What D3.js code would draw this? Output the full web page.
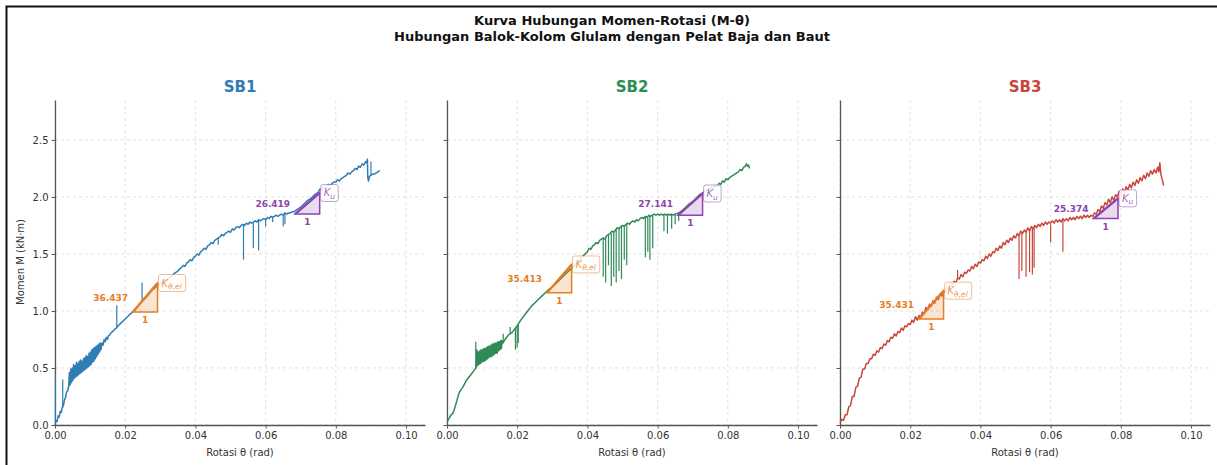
<!DOCTYPE html>
<html>
<head>
<meta charset="utf-8">
<script src="https://cdn.jsdelivr.net/npm/d3@7"></script>
<style>
    body { margin: 0; background: #fff; }
    svg { display: block; font-family: "DejaVu Sans", sans-serif; }
</style>
</head>
<body>
<div id="viz"></div>
<script>
//Data (theta rad, M kN·m)
const specimens = ['SB1', 'SB2', 'SB3'];
const xTicks = [0, 0.02, 0.04, 0.06, 0.08, 0.10];
const yTicks = [0, 0.5, 1.0, 1.5, 2.0, 2.5];

const sb1Curve = [
    [0.0000,0.00],[0.0003,0.04],[0.0006,0.03],[0.0009,0.08],[0.0012,0.07],[0.0015,0.12],[0.0018,0.11],[0.0021,0.16],[0.0024,0.17],[0.0027,0.22],[0.0030,0.24],[0.0033,0.29],[0.0036,0.30],
    [0.0039,0.34],[0.0041,0.46],[0.0043,0.35],[0.0045,0.49],[0.0047,0.37],[0.0049,0.50],[0.0051,0.39],[0.0053,0.53],[0.0055,0.41],[0.0057,0.52],[0.0059,0.42],[0.0061,0.55],[0.0063,0.43],[0.0065,0.54],[0.0067,0.44],[0.0069,0.56],[0.0071,0.45],[0.0073,0.57],[0.0075,0.46],[0.0077,0.56],[0.0079,0.47],[0.0081,0.58],[0.0083,0.48],[0.0085,0.59],[0.0087,0.49],[0.0089,0.61],[0.0091,0.50],[0.0093,0.60],[0.0095,0.51],[0.0097,0.63],[0.0099,0.52],[0.0101,0.64],[0.0103,0.53],[0.0105,0.66],[0.0107,0.55],[0.0109,0.67],[0.0111,0.56],[0.0113,0.68],[0.0115,0.58],[0.0117,0.69],[0.0119,0.60],[0.0121,0.70],[0.0123,0.62],[0.0125,0.71],[0.0127,0.64],[0.0129,0.72],[0.0131,0.66],[0.0134,0.72],[0.0137,0.70],[0.0140,0.75],[0.0143,0.73],[0.0146,0.77],[0.0149,0.75],[0.0152,0.78],[0.0156,0.79],[0.0160,0.81],[0.0165,0.82],[0.0170,0.84],[0.0175,0.85],[0.0180,0.87],
    [0.0190,0.90],[0.0200,0.93],[0.0210,0.96],[0.0220,0.99],[0.0230,1.02],[0.0240,1.06],[0.0250,1.09],[0.0260,1.12],[0.0270,1.16],[0.0280,1.19],[0.0290,1.22],[0.0300,1.24],[0.0310,1.26],[0.0320,1.28],[0.0330,1.30],[0.0340,1.33],[0.0350,1.35],[0.0355,1.37],[0.0360,1.38],[0.0365,1.40],[0.0370,1.39],[0.0375,1.42],[0.0380,1.43],[0.0385,1.45],[0.0390,1.44],[0.0395,1.47],[0.0400,1.48],[0.0405,1.50],[0.0410,1.49],[0.0415,1.52],[0.0420,1.53],[0.0425,1.55],[0.0430,1.54],[0.0435,1.57],[0.0440,1.58],[0.0445,1.60],[0.0450,1.59],[0.0455,1.62],[0.0460,1.63],[0.0465,1.64],[0.0470,1.65],[0.0475,1.67],[0.0480,1.66],[0.0485,1.68],[0.0490,1.69],[0.0495,1.70],[0.0500,1.69],[0.0505,1.72],[0.0510,1.71],[0.0515,1.73],[0.0520,1.74],[0.0525,1.73],[0.0530,1.75],[0.0535,1.76],[0.0540,1.75],[0.0545,1.77],[0.0550,1.76],[0.0555,1.78],[0.0560,1.77],[0.0565,1.78],[0.0570,1.79],[0.0575,1.78],[0.0580,1.80],[0.0585,1.79],[0.0590,1.80],[0.0595,1.81],[0.0600,1.80],[0.0605,1.82],[0.0610,1.81],[0.0615,1.83],[0.0620,1.82],[0.0625,1.83],[0.0630,1.84],[0.0635,1.83],[0.0640,1.84],[0.0645,1.85],[0.0650,1.84],[0.0655,1.86],[0.0660,1.85],[0.0665,1.86],[0.0670,1.86],[0.0675,1.87],[0.0680,1.87],
    [0.0690,1.89],[0.0700,1.91],[0.0710,1.94],[0.0720,1.97],[0.0730,1.99],[0.0740,2.02],[0.0750,2.04],[0.0755,2.07],[0.0760,2.06],[0.0765,2.09],[0.0770,2.08],[0.0775,2.10],[0.0780,2.11],[0.0785,2.10],[0.0790,2.12],[0.0795,2.13],[0.0800,2.13],[0.0805,2.15],[0.0810,2.14],[0.0815,2.16],[0.0820,2.17],[0.0825,2.18],[0.0830,2.19],[0.0835,2.21],[0.0840,2.20],[0.0845,2.22],[0.0850,2.23],[0.0855,2.25],[0.0860,2.24],[0.0865,2.27],[0.0870,2.26],[0.0875,2.29],[0.0880,2.28],[0.0885,2.31],[0.0888,2.30],[0.0890,2.33],[0.0891,2.17],[0.0893,2.14],[0.0896,2.18],[0.0900,2.19],[0.0905,2.20],[0.0910,2.20],[0.0915,2.21],[0.0920,2.22],[0.0925,2.23]
];
const sb2Curve = [
    [0.0000,0.02],[0.0004,0.05],[0.0008,0.07],[0.0012,0.09],[0.0016,0.10],[0.0020,0.13],[0.0024,0.17],[0.0028,0.21],[0.0032,0.26],[0.0036,0.29],[0.0040,0.31],[0.0045,0.33],[0.0050,0.36],[0.0055,0.39],[0.0060,0.41],[0.0065,0.43],[0.0070,0.45],[0.0075,0.47],[0.0080,0.49],
    [0.0083,0.51],[0.0085,0.66],[0.0087,0.52],[0.0089,0.64],[0.0091,0.53],[0.0093,0.65],[0.0095,0.54],[0.0097,0.66],[0.0099,0.55],[0.0101,0.66],[0.0103,0.56],[0.0105,0.67],[0.0107,0.56],[0.0109,0.67],[0.0111,0.57],[0.0113,0.68],[0.0115,0.58],[0.0117,0.69],[0.0119,0.59],[0.0121,0.69],[0.0123,0.60],[0.0125,0.70],[0.0127,0.60],[0.0129,0.71],[0.0131,0.61],[0.0133,0.71],[0.0135,0.62],[0.0137,0.72],[0.0139,0.63],[0.0141,0.72],[0.0143,0.63],[0.0145,0.73],[0.0147,0.65],[0.0149,0.73],[0.0151,0.66],[0.0153,0.74],[0.0155,0.67],[0.0157,0.74],
    [0.0160,0.72],[0.0165,0.75],[0.0170,0.77],[0.0175,0.79],[0.0180,0.80],[0.0185,0.81],[0.0190,0.83],[0.0195,0.85],[0.0200,0.87],[0.0210,0.92],[0.0220,0.96],[0.0230,1.00],[0.0240,1.04],[0.0250,1.07],[0.0260,1.10],[0.0270,1.13],[0.0280,1.16],[0.0290,1.19],[0.0300,1.21],[0.0310,1.24],[0.0320,1.27],[0.0330,1.30],[0.0340,1.33],[0.0350,1.36],[0.0360,1.39],[0.0370,1.42],[0.0380,1.46],[0.0390,1.49],[0.0400,1.52],
    [0.0405,1.55],[0.0410,1.54],[0.0415,1.57],[0.0420,1.58],[0.0425,1.60],[0.0430,1.59],[0.0435,1.62],[0.0440,1.63],[0.0445,1.64],[0.0450,1.63],[0.0455,1.66],[0.0460,1.67],[0.0465,1.68],[0.0470,1.70],[0.0475,1.69],[0.0480,1.71],[0.0485,1.73],[0.0490,1.72],[0.0495,1.74],[0.0500,1.75],[0.0505,1.74],[0.0510,1.76],[0.0515,1.77],[0.0520,1.76],[0.0525,1.78],[0.0530,1.79],[0.0535,1.78],[0.0540,1.80],[0.0545,1.79],[0.0550,1.81],[0.0555,1.82],[0.0560,1.81],[0.0565,1.83],[0.0570,1.82],[0.0575,1.84],[0.0580,1.83],[0.0585,1.84],[0.0590,1.85],[0.0595,1.84],[0.0600,1.85],[0.0605,1.84],[0.0610,1.85],[0.0615,1.84],[0.0620,1.85],[0.0625,1.84],[0.0630,1.85],[0.0635,1.84],[0.0640,1.85],[0.0645,1.84],[0.0650,1.85],
    [0.0660,1.86],[0.0670,1.88],[0.0680,1.91],[0.0690,1.94],[0.0700,1.96],[0.0710,1.99],[0.0720,2.02],[0.0730,2.04],[0.0740,2.06],[0.0750,2.07],[0.0755,2.09],[0.0760,2.08],[0.0765,2.10],[0.0770,2.09],[0.0775,2.12],[0.0780,2.11],[0.0785,2.14],[0.0790,2.13],[0.0795,2.16],[0.0800,2.15],[0.0805,2.17],[0.0810,2.18],[0.0815,2.19],[0.0820,2.20],[0.0825,2.21],[0.0830,2.22],[0.0835,2.24],[0.0840,2.23],[0.0845,2.26],[0.0850,2.27],[0.0853,2.29],[0.0856,2.27],[0.0859,2.28],[0.0862,2.25]
];
const sb3Curve = [
    [0.0000,0.02],[0.0005,0.05],[0.0010,0.04],[0.0015,0.09],[0.0020,0.09],[0.0025,0.16],[0.0030,0.17],[0.0035,0.25],[0.0040,0.25],[0.0045,0.33],[0.0050,0.34],[0.0055,0.41],[0.0060,0.42],[0.0065,0.49],[0.0070,0.49],[0.0075,0.54],[0.0080,0.54],[0.0085,0.58],[0.0090,0.58],[0.0095,0.62],[0.0100,0.61],[0.0105,0.65],[0.0110,0.64],[0.0115,0.68],[0.0120,0.67],[0.0125,0.71],[0.0130,0.70],[0.0135,0.74],[0.0140,0.73],[0.0145,0.77],[0.0150,0.76],[0.0155,0.80],[0.0160,0.78],[0.0165,0.82],[0.0170,0.81],[0.0175,0.85],[0.0180,0.83],[0.0185,0.87],[0.0190,0.86],[0.0195,0.89],[0.0200,0.88],
    [0.0205,0.92],[0.0210,0.90],[0.0215,0.95],[0.0220,0.92],[0.0225,0.96],[0.0230,0.95],[0.0235,0.99],[0.0240,0.98],[0.0245,1.03],[0.0250,1.01],[0.0255,1.06],[0.0260,1.04],[0.0265,1.09],[0.0270,1.07],[0.0275,1.12],[0.0280,1.10],[0.0285,1.15],[0.0290,1.13],[0.0295,1.18],[0.0300,1.16],[0.0305,1.21],[0.0310,1.19],[0.0315,1.24],[0.0320,1.22],[0.0325,1.26],[0.0330,1.25],[0.0335,1.29],[0.0340,1.28],[0.0345,1.32],[0.0350,1.30],[0.0355,1.34],[0.0360,1.33],[0.0365,1.36],[0.0370,1.35],[0.0375,1.39],[0.0380,1.37],[0.0385,1.41],[0.0390,1.39],[0.0395,1.43],[0.0400,1.42],
    [0.0405,1.45],[0.0410,1.44],[0.0415,1.48],[0.0420,1.46],[0.0425,1.50],[0.0430,1.48],[0.0435,1.52],[0.0440,1.51],[0.0445,1.55],[0.0450,1.53],[0.0455,1.57],[0.0460,1.55],[0.0465,1.60],[0.0470,1.58],[0.0475,1.62],[0.0480,1.60],[0.0485,1.64],[0.0490,1.62],[0.0495,1.66],[0.0500,1.64],[0.0505,1.68],[0.0510,1.66],[0.0515,1.70],[0.0520,1.68],[0.0525,1.71],[0.0530,1.69],[0.0535,1.73],[0.0540,1.70],[0.0545,1.74],[0.0550,1.72],[0.0555,1.75],[0.0560,1.73],[0.0565,1.76],[0.0570,1.74],[0.0575,1.77],[0.0580,1.75],[0.0585,1.78],[0.0590,1.76],[0.0595,1.78],[0.0600,1.77],
    [0.0605,1.79],[0.0610,1.77],[0.0615,1.80],[0.0620,1.78],[0.0625,1.80],[0.0630,1.78],[0.0635,1.81],[0.0640,1.79],[0.0645,1.81],[0.0650,1.79],[0.0655,1.82],[0.0660,1.80],[0.0665,1.82],[0.0670,1.80],[0.0675,1.83],[0.0680,1.81],[0.0685,1.83],[0.0690,1.81],[0.0695,1.84],[0.0700,1.82],[0.0705,1.84],[0.0710,1.82],[0.0715,1.84],[0.0720,1.83],[0.0725,1.86],[0.0730,1.85],[0.0735,1.89],[0.0740,1.87],[0.0745,1.92],[0.0750,1.90],[0.0755,1.95],[0.0760,1.93],[0.0765,1.98],[0.0770,1.95],[0.0775,2.00],[0.0780,1.97],[0.0785,2.02],[0.0790,2.00],[0.0795,2.05],[0.0800,2.02],
    [0.0805,2.07],[0.0810,2.04],[0.0815,2.09],[0.0820,2.06],[0.0825,2.11],[0.0830,2.08],[0.0835,2.13],[0.0840,2.10],[0.0845,2.15],[0.0850,2.12],[0.0855,2.17],[0.0860,2.14],[0.0865,2.19],[0.0870,2.16],[0.0875,2.21],[0.0880,2.18],[0.0885,2.23],[0.0890,2.20],[0.0895,2.24],[0.0900,2.21],[0.0905,2.26],[0.0908,2.22],[0.0911,2.30],[0.0914,2.20],[0.0918,2.15],[0.0922,2.10]
];

// sensor spikes: [theta, M from, M to]
const sb1Spikes = [
    [0.0001,0.02,0.45],[0.0022,0.15,0.40],[0.0176,0.86,1.05],[0.0248,1.08,1.25],[0.0465,1.64,1.58],
    [0.0537,1.76,1.45],[0.0565,1.78,1.55],[0.0580,1.80,1.53],[0.0600,1.80,1.74],[0.0620,1.82,1.78],
    [0.0650,1.84,1.74],[0.0655,1.86,1.76],[0.0900,2.19,2.31]
];
const sb2Spikes = [
    [0.0082,0.49,0.73],[0.0160,0.72,0.80],[0.0180,0.80,0.86],[0.0195,0.85,0.66],[0.0200,0.87,0.68],[0.0203,0.88,0.72],
    [0.0445,1.64,1.30],[0.0452,1.63,1.25],[0.0460,1.67,1.40],[0.0468,1.68,1.22],[0.0475,1.69,1.30],[0.0482,1.72,1.25],
    [0.0490,1.72,1.35],[0.0497,1.74,1.28],[0.0505,1.74,1.45],[0.0512,1.76,1.40],
    [0.0565,1.83,1.47],[0.0572,1.82,1.52],[0.0578,1.84,1.45],[0.0586,1.84,1.55],
    [0.0618,1.85,1.70],[0.0628,1.85,1.68],[0.0640,1.85,1.72],[0.0650,1.85,1.76],[0.0660,1.86,1.79]
];
const sb3Spikes = [
    [0.0335,1.29,1.36],[0.0510,1.66,1.28],[0.0518,1.68,1.35],[0.0530,1.69,1.30],[0.0540,1.70,1.34],
    [0.0548,1.72,1.32],[0.0553,1.73,1.38],[0.0600,1.76,1.60],[0.0635,1.80,1.52]
];

// stiffness (kN·m/rad) and triangle start points
const kElastic = [36.437, 35.413, 35.431];
const kUltimate = [26.419, 27.141, 25.374];
const kElasticStart = [[0.0222, 0.99], [0.0285, 1.16], [0.0225, 0.93]];
const kUltimateStart = [[0.0684, 1.85], [0.0658, 1.84], [0.0722, 1.81]];
const triRun = 0.007;

const curves = [sb1Curve, sb2Curve, sb3Curve];
const spikes = [sb1Spikes, sb2Spikes, sb3Spikes];

//Colores
const COLORS = ['#2f7db3', '#2e8b57', '#c9463a'];
const COLOR_EL = '#e67e22', COLOR_U = '#8e44ad';

const width = 1217, height = 465;
const svg = d3.select('#viz').append('svg')
    .attr('width', width)
    .attr('height', height);

// frame
svg.append('path')
    .attr('d', 'M6.5,465V6.5H1217')
    .attr('fill', 'none')
    .attr('stroke', '#111')
    .attr('stroke-width', 2);

// main title
svg.append('text').attr('x', 612).attr('y', 25).attr('text-anchor', 'middle')
    .attr('font-size', 13).attr('font-weight', 'bold').attr('fill', '#111')
    .text('Kurva Hubungan Momen-Rotasi (M-θ)');
svg.append('text').attr('x', 612).attr('y', 41).attr('text-anchor', 'middle')
    .attr('font-size', 13).attr('font-weight', 'bold').attr('fill', '#111')
    .text('Hubungan Balok-Kolom Glulam dengan Pelat Baja dan Baut');

const panelLeft = [55, 447, 840];
const plotW = 370, plotTop = 100, plotBottom = 425;

specimens.forEach(function(name, i) {
    let x = d3.scaleLinear().domain([0, 0.1054]).range([panelLeft[i], panelLeft[i] + plotW]);
    let y = d3.scaleLinear().domain([0, 2.85]).range([plotBottom, plotTop]);
    let g = svg.append('g');

    // grid
    g.selectAll('.gx').data(xTicks).enter().append('line')
        .attr('x1', d => x(d)).attr('x2', d => x(d))
        .attr('y1', plotTop).attr('y2', plotBottom)
        .attr('stroke', '#d9d9d9').attr('stroke-width', 0.8).attr('stroke-dasharray', '3,3');
    g.selectAll('.gy').data(yTicks).enter().append('line')
        .attr('x1', x.range()[0]).attr('x2', x.range()[1])
        .attr('y1', d => y(d)).attr('y2', d => y(d))
        .attr('stroke', '#d9d9d9').attr('stroke-width', 0.8).attr('stroke-dasharray', '3,3');

    // axes
    let xAxis = g.append('g')
        .attr('transform', 'translate(0,' + plotBottom + ')')
        .call(d3.axisBottom(x).tickValues(xTicks).tickFormat(d3.format('.2f')).tickSize(3.5).tickSizeOuter(0).tickPadding(3));
    let yAxis = g.append('g')
        .attr('transform', 'translate(' + panelLeft[i] + ',0)')
        .call(d3.axisLeft(y).tickValues(yTicks).tickFormat(i == 0 ? d3.format('.1f') : '').tickSize(3.5).tickSizeOuter(0).tickPadding(3));
    [xAxis, yAxis].forEach(function(a) {
        a.select('.domain').attr('stroke', '#555').attr('stroke-width', 1.3);
        a.selectAll('.tick line').attr('stroke', '#555');
        a.selectAll('text').attr('font-size', 10).attr('fill', '#333').attr('font-family', '"DejaVu Sans", sans-serif');
    });

    // labels
    g.append('text').attr('x', (x.range()[0] + x.range()[1]) / 2).attr('y', 456)
        .attr('text-anchor', 'middle').attr('font-size', 10).attr('fill', '#333')
        .text('Rotasi θ (rad)');
    if (i == 0) {
        g.append('text').attr('transform', 'translate(24,262)rotate(-90)')
            .attr('text-anchor', 'middle').attr('font-size', 10).attr('fill', '#333')
            .text('Momen M (kN·m)');
    }
    g.append('text').attr('x', (x.range()[0] + x.range()[1]) / 2).attr('y', 92)
        .attr('text-anchor', 'middle').attr('font-size', 15).attr('font-weight', 'bold')
        .attr('fill', COLORS[i]).text(name);

    // curve
    let line = d3.line().x(d => x(d[0])).y(d => y(d[1]));
    g.append('path').datum(curves[i])
        .attr('d', line)
        .attr('fill', 'none').attr('stroke', COLORS[i])
        .attr('stroke-width', 1.5).attr('stroke-linejoin', 'round');
    g.selectAll('.spike').data(spikes[i]).enter().append('line')
        .attr('x1', d => x(d[0])).attr('x2', d => x(d[0]))
        .attr('y1', d => y(d[1])).attr('y2', d => y(d[2]))
        .attr('stroke', COLORS[i]).attr('stroke-width', 1.2);

    // slope triangles
    function drawTriangle(start, k, color, sub) {
        let x0 = start[0], y0 = start[1];
        let x1 = x0 + triRun, y1 = y0 + k * triRun;
        g.append('path')
            .attr('d', 'M' + x(x0) + ',' + y(y0) + 'L' + x(x1) + ',' + y(y0) + 'L' + x(x1) + ',' + y(y1) + 'Z')
            .attr('fill', color).attr('fill-opacity', 0.2)
            .attr('stroke', color).attr('stroke-width', 1.5);
        g.append('line')
            .attr('x1', x(x0)).attr('y1', y(y0)).attr('x2', x(x1)).attr('y2', y(y1))
            .attr('stroke', color).attr('stroke-width', 2.3);
        g.append('text')
            .attr('x', x(x0) - 5).attr('y', y((y0 + y1) / 2))
            .attr('dy', '0.35em').attr('text-anchor', 'end')
            .attr('font-size', 9).attr('font-weight', 'bold').attr('fill', color)
            .text(k.toFixed(3));
        g.append('text')
            .attr('x', x((x0 + x1) / 2)).attr('y', y(y0) + 11)
            .attr('text-anchor', 'middle')
            .attr('font-size', 9).attr('font-weight', 'bold').attr('fill', color)
            .text('1');
        let lab = g.append('text')
            .attr('x', x(x1) + 4).attr('y', y(y1) + 3.5)
            .attr('font-size', 10).attr('font-style', 'italic').attr('fill', color).attr('fill-opacity', 0.85);
        lab.append('tspan').text('K');
        lab.append('tspan').attr('font-size', 7.5).attr('dy', 2.5).text(sub);
        let bb = lab.node().getBBox();
        g.insert('rect', function() { return lab.node(); })
            .attr('x', bb.x - 3).attr('y', y(y1) - 8.5)
            .attr('width', bb.width + 6).attr('height', 17)
            .attr('rx', 2.5)
            .attr('fill', '#fff').attr('fill-opacity', 0.85)
            .attr('stroke', color).attr('stroke-opacity', 0.5).attr('stroke-width', 1);
    }
    drawTriangle(kElasticStart[i], kElastic[i], COLOR_EL, 'θ,el');
    drawTriangle(kUltimateStart[i], kUltimate[i], COLOR_U, 'u');
});
</script>
</body>
</html>
